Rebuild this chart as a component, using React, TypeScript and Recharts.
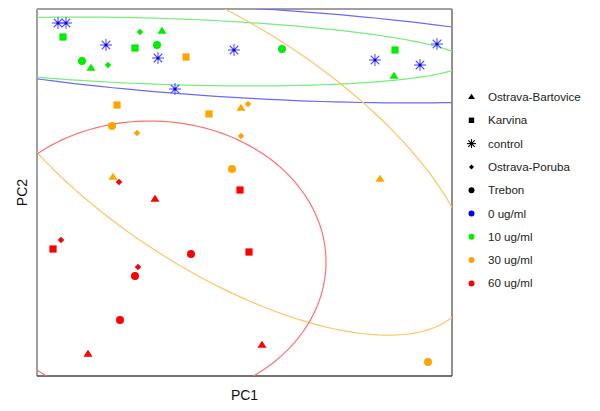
import React from "react"
import { ScatterChart, Scatter, XAxis, YAxis, ReferenceLine, Label } from "recharts"

type Pt = { x: number; y: number }

// PCA scores (no ticks, so units are arbitrary)
const control0: Pt[] = [
  { x: 21, y: 353 }, { x: 29, y: 353 }, { x: 69, y: 331 }, { x: 121, y: 318 }, { x: 197, y: 326 },
  { x: 138, y: 287 }, { x: 338, y: 316 }, { x: 400, y: 332 }, { x: 383, y: 311 },
]

const bartovice10: Pt[] = [{ x: 125, y: 345 }, { x: 54, y: 308 }, { x: 357, y: 300 }]
const karvina10: Pt[] = [{ x: 26, y: 339 }, { x: 98, y: 328 }, { x: 358, y: 326 }]
const poruba10: Pt[] = [{ x: 103, y: 344 }, { x: 71, y: 311 }]
const trebon10: Pt[] = [{ x: 120, y: 331 }, { x: 45, y: 315 }, { x: 245, y: 327 }]

const bartovice30: Pt[] = [{ x: 204, y: 268 }, { x: 76, y: 199 }, { x: 343, y: 197 }]
const karvina30: Pt[] = [{ x: 149, y: 319 }, { x: 80, y: 271 }, { x: 172, y: 262 }]
const poruba30: Pt[] = [{ x: 211, y: 272 }, { x: 100, y: 243 }, { x: 204, y: 240 }]
const trebon30: Pt[] = [{ x: 75, y: 250 }, { x: 195, y: 207 }, { x: 391, y: 14 }]

const bartovice60: Pt[] = [{ x: 118, y: 177 }, { x: 51, y: 22 }, { x: 225, y: 31 }]
const karvina60: Pt[] = [{ x: 203, y: 186 }, { x: 16, y: 127 }, { x: 212, y: 124 }]
const poruba60: Pt[] = [{ x: 82, y: 194 }, { x: 24, y: 136 }, { x: 101, y: 109 }]
const trebon60: Pt[] = [{ x: 154, y: 122 }, { x: 98, y: 100 }, { x: 83, y: 56 }]

// ellipses: [cx, cy, semi-major, semi-minor, angle in degrees]
const ellipse0 = [208, 323, 380, 45, -3.3]
const ellipse10 = [128, 324.5, 300, 33, -1.9]
const ellipse30 = [183, 229, 290, 122, -33]
const ellipse60 = [113, 114, 176, 141, 0]

const shapeLabels = ["Ostrava-Bartovice", "Karvina", "control", "Ostrava-Poruba", "Trebon"]
const shapeKinds = ["triangle", "square", "star", "diamond", "circle"]
const doseLabels = ["0 ug/ml", "10 ug/ml", "30 ug/ml", "60 ug/ml"]
const doseColors = ["#0000ff", "#00ee00", "#ffa500", "#ff0000"]
const ellipseColors = ["#6a6aff", "#77ee77", "#ffc466", "#ff7070"]

function ellipsePoints(e: number[]): Pt[] {
  const [cx, cy, a, b, deg] = e
  const th = (deg * Math.PI) / 180
  const pts: Pt[] = []
  for (let i = 0; i <= 180; i++) {
    const t = (i / 180) * Math.PI * 2
    pts.push({
      x: cx + a * Math.cos(t) * Math.cos(th) - b * Math.sin(t) * Math.sin(th),
      y: cy + a * Math.cos(t) * Math.sin(th) + b * Math.sin(t) * Math.cos(th),
    })
  }
  return pts
}

function Marker({ kind, cx, cy, color, s = 1 }: { kind: string; cx: number; cy: number; color: string; s?: number }) {
  if (kind === "triangle") {
    const w = 4.6 * s, h = 7 * s
    return <polygon points={`${cx},${cy - h * 0.6} ${cx - w},${cy + h * 0.4} ${cx + w},${cy + h * 0.4}`} fill={color} />
  }
  if (kind === "square") {
    const r = 3.6 * s
    return <rect x={cx - r} y={cy - r} width={r * 2} height={r * 2} fill={color} />
  }
  if (kind === "diamond") {
    const r = 3.3 * s
    return <polygon points={`${cx},${cy - r} ${cx + r},${cy} ${cx},${cy + r} ${cx - r},${cy}`} fill={color} />
  }
  if (kind === "circle") {
    return <circle cx={cx} cy={cy} r={4 * s} fill={color} />
  }
  const r = 6 * s
  const d = r * 0.707
  return (
    <g stroke={color === "#0000ff" ? "#5555ff" : color} strokeWidth={1.1}>
      <line x1={cx - r} y1={cy} x2={cx + r} y2={cy} />
      <line x1={cx} y1={cy - r} x2={cx} y2={cy + r} />
      <line x1={cx - d} y1={cy - d} x2={cx + d} y2={cy + d} />
      <line x1={cx - d} y1={cy + d} x2={cx + d} y2={cy - d} />
      <circle cx={cx} cy={cy} r={1.6 * s} fill={color} stroke="none" />
    </g>
  )
}

const shapeFor = (kind: string, color: string) => (p: any) => <Marker kind={kind} cx={p.cx} cy={p.cy} color={color} />

const series: [Pt[], string, string][] = [
  [control0, "star", doseColors[0]],
  [bartovice10, "triangle", doseColors[1]],
  [karvina10, "square", doseColors[1]],
  [poruba10, "diamond", doseColors[1]],
  [trebon10, "circle", doseColors[1]],
  [bartovice30, "triangle", doseColors[2]],
  [karvina30, "square", doseColors[2]],
  [poruba30, "diamond", doseColors[2]],
  [trebon30, "circle", doseColors[2]],
  [bartovice60, "triangle", doseColors[3]],
  [karvina60, "square", doseColors[3]],
  [poruba60, "diamond", doseColors[3]],
  [trebon60, "circle", doseColors[3]],
]

const ellipses = [ellipse0, ellipse10, ellipse30, ellipse60]

function LegendBox() {
  const font = "'Liberation Sans', Arial, sans-serif"
  return (
    <svg width={600} height={411} style={{ position: "absolute", left: 0, top: 0, pointerEvents: "none" }}>
      {shapeLabels.map((lab, i) => (
        <g key={lab}>
          <Marker kind={shapeKinds[i]} cx={471.5} cy={97 + i * 23.3} color="#000" s={0.75} />
          <text x={488} y={97 + i * 23.3 + 4} fontSize={11.6} fontFamily={font} fill="#222">{lab}</text>
        </g>
      ))}
      {doseLabels.map((lab, i) => (
        <g key={lab}>
          <circle cx={471.5} cy={97 + (i + 5) * 23.3} r={3} fill={doseColors[i]} />
          <text x={488} y={97 + (i + 5) * 23.3 + 4} fontSize={11.6} fontFamily={font} fill="#222">{lab}</text>
        </g>
      ))}
    </svg>
  )
}

export default function App() {
  const font = "'Liberation Sans', Arial, sans-serif"
  return (
    <div style={{ position: "absolute", left: 0, top: 0, width: 600, height: 411, background: "#fff" }}>
      <ScatterChart width={600} height={411} margin={{ top: 9, right: 148, bottom: 0, left: 0 }}>
        <XAxis type="number" dataKey="x" domain={[0, 415]} allowDataOverflow tick={false} tickLine={false} axisLine={false} height={35}>
          <Label value="PC1" position="center" dy={2} style={{ fontSize: 14, fontFamily: font, fill: "#111" }} />
        </XAxis>
        <YAxis type="number" dataKey="y" domain={[0, 367]} allowDataOverflow tick={false} tickLine={false} axisLine={false} width={37}>
          <Label value="PC2" position="center" angle={-90} dx={4} style={{ fontSize: 14, fontFamily: font, fill: "#111" }} />
        </YAxis>
        {ellipses.map((e, i) => (
          <Scatter
            key={"e" + i}
            data={ellipsePoints(e)}
            line={{ stroke: ellipseColors[i], strokeWidth: 1.2 }}
            lineType="joint"
            shape={() => <g />}
            isAnimationActive={false}
          />
        ))}
        {series.map(([d, kind, color], i) => (
          <Scatter key={"s" + i} data={d} shape={shapeFor(kind, color)} isAnimationActive={false} />
        ))}
        <ReferenceLine x={0} stroke="#a0a0a0" strokeWidth={2} />
        <ReferenceLine y={367} stroke="#a0a0a0" strokeWidth={2} />
        <ReferenceLine x={415} stroke="#909090" strokeWidth={2} />
        <ReferenceLine y={0} stroke="#444" strokeWidth={1.5} />
      </ScatterChart>
      <LegendBox />
    </div>
  )
}
